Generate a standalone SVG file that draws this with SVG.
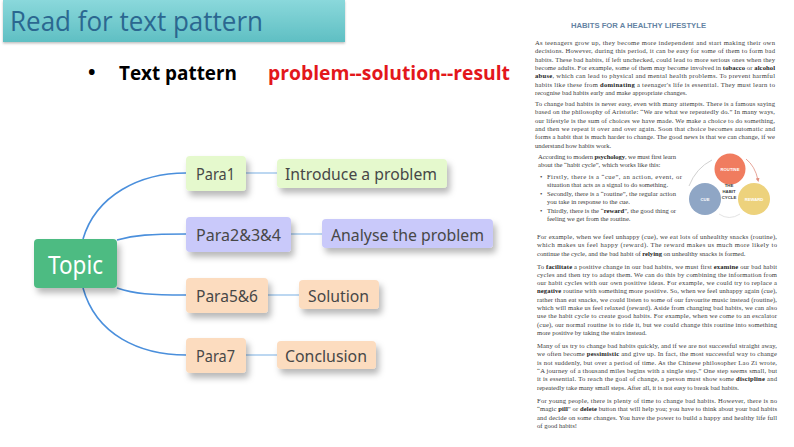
<svg xmlns="http://www.w3.org/2000/svg" width="794" height="447" viewBox="0 0 794 447">
<defs>
<linearGradient id="ban" x1="0" y1="0" x2="0" y2="1">
<stop offset="0" stop-color="#8ad8db"/>
<stop offset="1" stop-color="#5fbfc3"/>
</linearGradient>
<filter id="sh" x="-20%" y="-30%" width="150%" height="190%">
<feDropShadow dx="3" dy="5" stdDeviation="3" flood-color="#000" flood-opacity="0.28"/>
</filter>
<filter id="sh2" x="-5%" y="-20%" width="110%" height="150%">
<feDropShadow dx="0" dy="1.5" stdDeviation="1" flood-color="#000" flood-opacity="0.25"/>
</filter>
<marker id="ah" markerWidth="4" markerHeight="4" refX="2" refY="2" orient="auto" markerUnits="userSpaceOnUse">
<path d="M0,0 L4,2 L0,4 z" fill="#e08f80"/>
</marker>
</defs>
<style>
.mm{font-family:"Noto Sans","Open Sans",sans-serif;font-size:17px;fill:#474747}
.hd{font-family:"Open Sans","Noto Sans",sans-serif}
.main{fill:none;stroke:#4a8fdc;stroke-width:1.6}
.sub{fill:none;stroke:#86b6e6;stroke-width:1.1}
.t{font-family:"Liberation Serif",serif;font-size:6.6px;fill:#3a3a3a}
.bd{font-weight:bold;fill:#222}
.cl{font-family:"Liberation Sans",sans-serif;font-size:4.2px;font-weight:bold;fill:#fff;text-anchor:middle}
.hc{font-family:"Liberation Sans",sans-serif;font-size:4.3px;font-weight:bold;fill:#3d3d3d;text-anchor:middle}
</style>
<rect width="794" height="447" fill="#fff"/>

<!-- header -->
<g id="banner">
<rect x="3" y="0" width="342" height="42" fill="url(#ban)" filter="url(#sh2)"/>
<text x="10" y="31" class="hd" font-size="28" fill="#2b6790" textLength="253" lengthAdjust="spacingAndGlyphs">Read for text pattern</text>
</g>
<g id="bullet-line">
<text x="88" y="79" class="hd" font-size="20" font-weight="bold" fill="#000">•</text>
<text x="119" y="80" class="hd" font-size="20" font-weight="bold" fill="#000" textLength="118" lengthAdjust="spacingAndGlyphs">Text pattern</text>
<text x="268" y="80" class="hd" font-size="20" font-weight="bold" fill="#e3171b" textLength="242" lengthAdjust="spacingAndGlyphs">problem--solution--result</text>
</g>

<!-- connectors -->
<g id="connectors">
<path class="main" d="M83,239 C96,195 140,173 186,173"/>
<path class="main" d="M117,240 C135,235 150,234 186,234"/>
<path class="main" d="M117,288 C135,294 150,295 186,295"/>
<path class="main" d="M83,288 C96,335 140,355 186,355"/>
<path class="sub" d="M246,173 H277"/>
<path class="sub" d="M291,234 H322"/>
<path class="sub" d="M268,295 H299"/>
<path class="sub" d="M246,355 H277"/>
</g>

<!-- nodes -->
<g id="topic">
<rect x="34" y="239" width="83" height="49" rx="4" fill="#4dbb82" filter="url(#sh)"/>
<text x="48" y="274" font-family="Noto Sans,Open Sans,sans-serif" font-size="26" fill="#fff" textLength="55" lengthAdjust="spacingAndGlyphs">Topic</text>
</g>
<g id="para1">
<rect x="186" y="156" width="60" height="35" rx="4" fill="#e5f9cd" filter="url(#sh)"/>
<text x="196" y="179.5" class="mm" textLength="39" lengthAdjust="spacingAndGlyphs">Para1</text>
</g>
<g id="intro">
<rect x="277" y="159" width="170" height="29" rx="4" fill="#e5f9cd" filter="url(#sh)"/>
<text x="285" y="180" class="mm" textLength="152" lengthAdjust="spacingAndGlyphs">Introduce a problem</text>
</g>
<g id="para234">
<rect x="186" y="217" width="105" height="35" rx="4" fill="#c9c9fa" filter="url(#sh)"/>
<text x="196" y="240.5" class="mm" textLength="85" lengthAdjust="spacingAndGlyphs">Para2&amp;3&amp;4</text>
</g>
<g id="analyse">
<rect x="322" y="219" width="171" height="29" rx="4" fill="#c9c9fa" filter="url(#sh)"/>
<text x="331" y="241" class="mm" textLength="153" lengthAdjust="spacingAndGlyphs">Analyse the problem</text>
</g>
<g id="para56">
<rect x="186" y="278" width="82" height="35" rx="4" fill="#fcdcbf" filter="url(#sh)"/>
<text x="196" y="301.5" class="mm" textLength="62" lengthAdjust="spacingAndGlyphs">Para5&amp;6</text>
</g>
<g id="solution">
<rect x="299" y="280" width="80" height="29" rx="4" fill="#fcdcbf" filter="url(#sh)"/>
<text x="308" y="301.5" class="mm" textLength="61" lengthAdjust="spacingAndGlyphs">Solution</text>
</g>
<g id="para7">
<rect x="186" y="338" width="60" height="35" rx="4" fill="#fcdcbf" filter="url(#sh)"/>
<text x="196" y="362" class="mm" textLength="39" lengthAdjust="spacingAndGlyphs">Para7</text>
</g>
<g id="conclusion">
<rect x="277" y="341" width="99" height="28" rx="4" fill="#fcdcbf" filter="url(#sh)"/>
<text x="285" y="362" class="mm" textLength="82" lengthAdjust="spacingAndGlyphs">Conclusion</text>
</g>

<!-- article -->
<g id="article">
<text x="571" y="28" font-family="Liberation Sans,sans-serif" font-size="8" font-weight="bold" fill="#6483a3" textLength="135" lengthAdjust="spacingAndGlyphs">HABITS FOR A HEALTHY LIFESTYLE</text>

<text class="t" x="535" y="45" textLength="240" lengthAdjust="spacing">As teenagers grow up, they become more independent and start making their own</text>
<text class="t" x="535" y="53.3" textLength="240" lengthAdjust="spacing">decisions. However, during this period, it can be easy for some of them to form bad</text>
<text class="t" x="535" y="61.6" textLength="240" lengthAdjust="spacing">habits. These bad habits, if left unchecked, could lead to more serious ones when they</text>
<text class="t" x="535" y="69.9" textLength="240" lengthAdjust="spacing">become adults. For example, some of them may become involved in <tspan class="bd">tobacco</tspan> or <tspan class="bd">alcohol</tspan></text>
<text class="t" x="535" y="78.2" textLength="240" lengthAdjust="spacing"><tspan class="bd">abuse</tspan>, which can lead to physical and mental health problems. To prevent harmful</text>
<text class="t" x="535" y="86.5" textLength="240" lengthAdjust="spacing">habits like these from <tspan class="bd">dominating</tspan> a teenager's life is essential. They must learn to</text>
<text class="t" x="535" y="94.8">recognise bad habits early and make appropriate changes.</text>

<text class="t" x="535" y="106" textLength="240" lengthAdjust="spacing">To change bad habits is never easy, even with many attempts. There is a famous saying</text>
<text class="t" x="535" y="114.3" textLength="240" lengthAdjust="spacing">based on the philosophy of Aristotle: “We are what we repeatedly do.” In many ways,</text>
<text class="t" x="535" y="122.6" textLength="240" lengthAdjust="spacing">our lifestyle is the sum of choices we have made. We make a choice to do something,</text>
<text class="t" x="535" y="130.9" textLength="240" lengthAdjust="spacing">and then we repeat it over and over again. Soon that choice becomes automatic and</text>
<text class="t" x="535" y="139.2" textLength="240" lengthAdjust="spacing">forms a habit that is much harder to change. The good news is that we can change, if we</text>
<text class="t" x="535" y="147.5">understand how habits work.</text>

<text class="t" x="538" y="159" textLength="138" lengthAdjust="spacing">According to modern <tspan class="bd">psychology</tspan>, we must first learn</text>
<text class="t" x="538" y="167.3">about the “habit cycle”, which works like this:</text>

<text class="t" x="540" y="179">•</text>
<text class="t" x="547" y="179" textLength="135" lengthAdjust="spacing">Firstly, there is a “cue”, an action, event, or</text>
<text class="t" x="547" y="187.3">situation that acts as a signal to do something.</text>
<text class="t" x="540" y="196">•</text>
<text class="t" x="547" y="196" textLength="129" lengthAdjust="spacing">Secondly, there is a “routine”, the regular action</text>
<text class="t" x="547" y="204.3">you take in response to the cue.</text>
<text class="t" x="540" y="213">•</text>
<text class="t" x="547" y="213" textLength="129" lengthAdjust="spacing">Thirdly, there is the “<tspan class="bd">reward</tspan>”, the good thing or</text>
<text class="t" x="547" y="221.3">feeling we get from the routine.</text>

<text class="t" x="537" y="239" textLength="240" lengthAdjust="spacing">For example, when we feel unhappy (cue), we eat lots of unhealthy snacks (routine),</text>
<text class="t" x="537" y="247.3" textLength="240" lengthAdjust="spacing">which makes us feel happy (reward). The reward makes us much more likely to</text>
<text class="t" x="537" y="255.6">continue the cycle, and the bad habit of <tspan class="bd">relying</tspan> on unhealthy snacks is formed.</text>

<text class="t" x="537" y="268.5" textLength="240" lengthAdjust="spacing">To <tspan class="bd">facilitate</tspan> a positive change in our bad habits, we must first <tspan class="bd">examine</tspan> our bad habit</text>
<text class="t" x="537" y="276.8" textLength="240" lengthAdjust="spacing">cycles and then try to adapt them. We can do this by combining the information from</text>
<text class="t" x="537" y="285.1" textLength="240" lengthAdjust="spacing">our habit cycles with our own positive ideas. For example, we could try to replace a</text>
<text class="t" x="537" y="293.4" textLength="240" lengthAdjust="spacing"><tspan class="bd">negative</tspan> routine with something more positive. So, when we feel unhappy again (cue),</text>
<text class="t" x="537" y="301.7" textLength="240" lengthAdjust="spacing">rather than eat snacks, we could listen to some of our favourite music instead (routine),</text>
<text class="t" x="537" y="310" textLength="240" lengthAdjust="spacing">which will make us feel relaxed (reward). Aside from changing bad habits, we can also</text>
<text class="t" x="537" y="318.3" textLength="240" lengthAdjust="spacing">use the habit cycle to create good habits. For example, when we come to an escalator</text>
<text class="t" x="537" y="326.6" textLength="240" lengthAdjust="spacing">(cue), our normal routine is to ride it, but we could change this routine into something</text>
<text class="t" x="537" y="334.9">more positive by taking the stairs instead.</text>

<text class="t" x="537" y="347.5" textLength="240" lengthAdjust="spacing">Many of us try to change bad habits quickly, and if we are not successful straight away,</text>
<text class="t" x="537" y="355.8" textLength="240" lengthAdjust="spacing">we often become <tspan class="bd">pessimistic</tspan> and give up. In fact, the most successful way to change</text>
<text class="t" x="537" y="364.6" textLength="240" lengthAdjust="spacing">is not suddenly, but over a period of time. As the Chinese philosopher Lao Zi wrote,</text>
<text class="t" x="537" y="373" textLength="240" lengthAdjust="spacing">“A journey of a thousand miles begins with a single step.” One step seems small, but</text>
<text class="t" x="537" y="381.3" textLength="240" lengthAdjust="spacing">it is essential. To reach the goal of change, a person must show some <tspan class="bd">discipline</tspan> and</text>
<text class="t" x="537" y="389.6">repeatedly take many small steps. After all, it is not easy to break bad habits.</text>

<text class="t" x="537" y="403" textLength="240" lengthAdjust="spacing">For young people, there is plenty of time to change bad habits. However, there is no</text>
<text class="t" x="537" y="411.3" textLength="240" lengthAdjust="spacing">“magic <tspan class="bd">pill</tspan>” or <tspan class="bd">delete</tspan> button that will help you; you have to think about your bad habits</text>
<text class="t" x="537" y="419.6" textLength="240" lengthAdjust="spacing">and decide on some changes. You have the power to build a happy and healthy life full</text>
<text class="t" x="537" y="427.9">of good habits!</text>
</g>

<!-- habit cycle figure -->
<g id="habit-cycle">
<path d="M689,186 Q696,168 712,160" fill="none" stroke="#c4c4c4" stroke-width="0.8"/>
<path d="M746,159 Q755,166 758,180" fill="none" stroke="#e08f80" stroke-width="0.8" marker-end="url(#ah)"/>
<path d="M719,214 Q729,221 740,214" fill="none" stroke="#dcdcdc" stroke-width="0.8"/>
<circle cx="730" cy="169" r="15.5" fill="#f07c5f"/>
<circle cx="705" cy="199" r="16" fill="#8fa6c5"/>
<circle cx="754" cy="199" r="16" fill="#edd27c"/>
<text class="cl" x="730" y="170.5">ROUTINE</text>
<text class="cl" x="705" y="200.5">CUE</text>
<text class="cl" x="754" y="200.5">REWARD</text>
<text class="hc" x="729" y="187">THE</text>
<text class="hc" x="729" y="193">HABIT</text>
<text class="hc" x="729" y="199">CYCLE</text>
</g>
</svg>
